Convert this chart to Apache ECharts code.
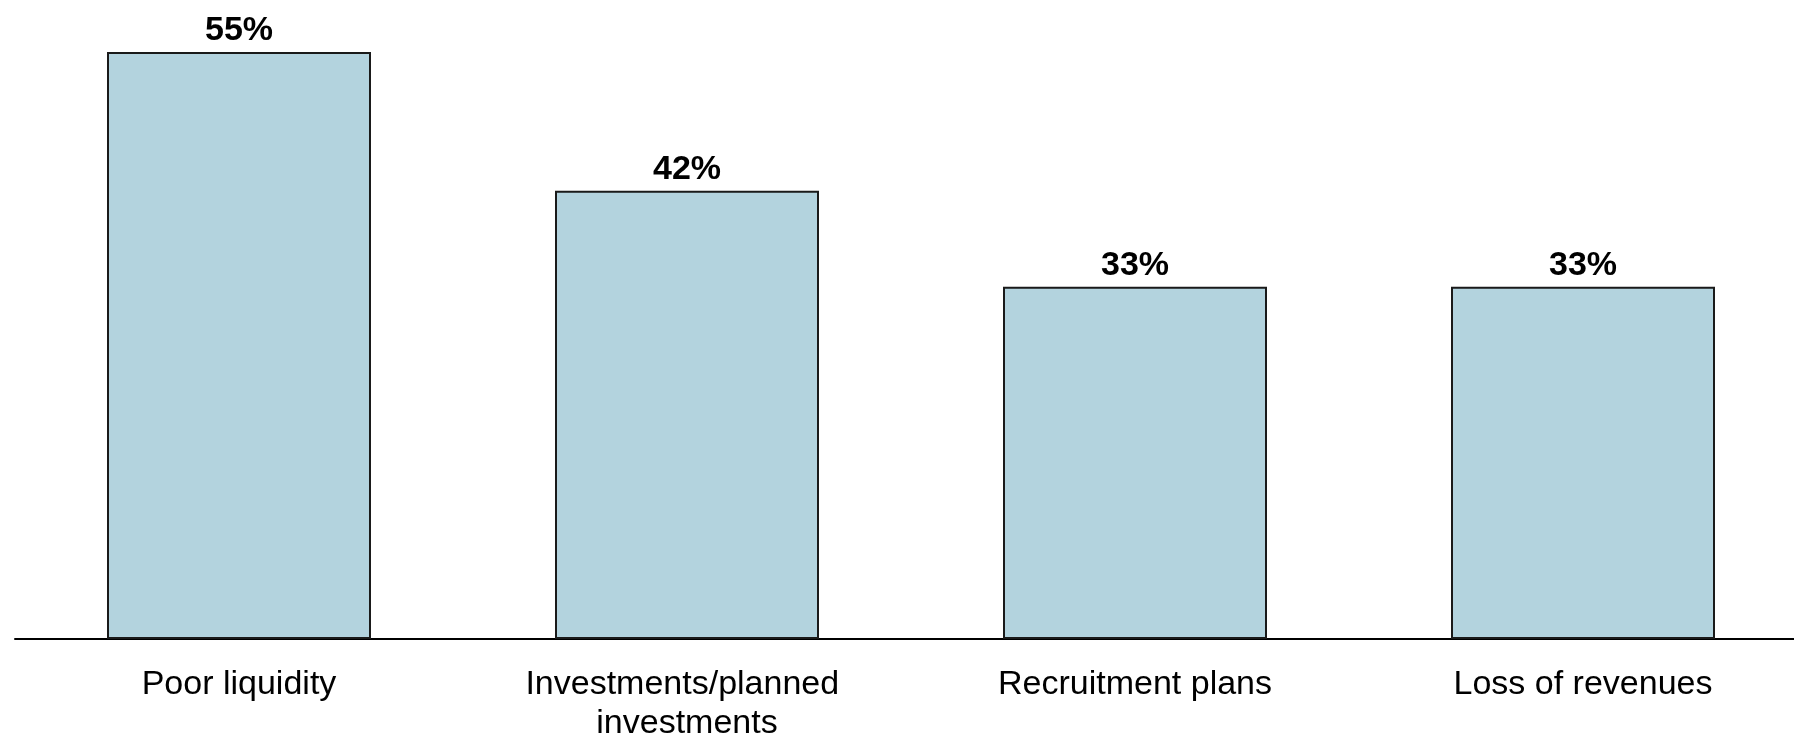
<!DOCTYPE html>
<html>
<head>
<meta charset="utf-8">
<script src="https://cdn.jsdelivr.net/npm/echarts@6/dist/echarts.min.js"></script>
<style>
  html, body { margin: 0; padding: 0; background: #ffffff; }
  #chart { width: 1794px; height: 739px; }
</style>
</head>
<body>
<div id="chart"></div>
<script>
// Share of respondents citing each consequence (percent)
const categories = ['Poor liquidity', 'Investments/planned investments', 'Recruitment plans', 'Loss of revenues'];
const shares = [55, 42, 33, 33];

const FONT = '"Liberation Sans", Arial, sans-serif';

const chart = echarts.init(document.getElementById('chart'), null, { renderer: 'canvas' });

chart.setOption({
  animation: false,
  backgroundColor: '#ffffff',
  grid: {
    left: 15,
    top: 52,
    bottom: 100,
    width: 1792,
    outerBoundsMode: 'none',
    containLabel: false
  },
  xAxis: {
    type: 'category',
    data: categories,
    axisLine: { show: true, lineStyle: { color: '#000000', width: 2 } },
    axisTick: { show: false },
    axisLabel: {
      interval: 0,
      margin: 26,
      color: '#000000',
      fontFamily: FONT,
      fontSize: 34,
      lineHeight: 39,
      width: 400,
      overflow: 'break',
      align: 'center'
    }
  },
  yAxis: {
    type: 'value',
    min: 0,
    max: 55,
    show: false,
    splitLine: { show: false }
  },
  series: [{
    type: 'bar',
    data: shares,
    barWidth: 264,
    itemStyle: {
      color: '#b3d3de',
      borderColor: '#1a1a1a',
      borderWidth: 2
    },
    label: {
      show: true,
      position: 'top',
      distance: 4,
      formatter: '{c}%',
      color: '#000000',
      fontFamily: FONT,
      fontWeight: 'bold',
      fontSize: 34
    }
  }]
});
</script>
</body>
</html>
